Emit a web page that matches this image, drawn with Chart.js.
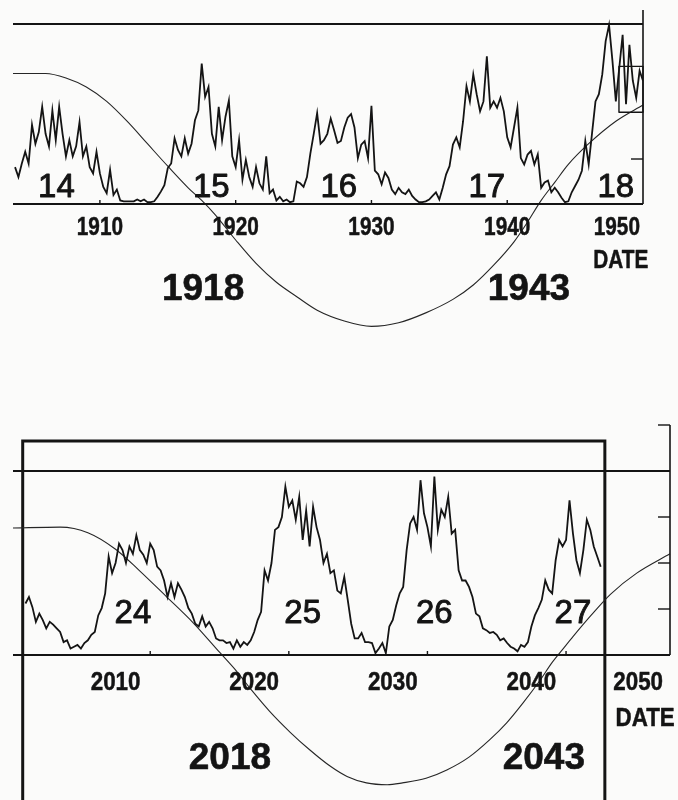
<!DOCTYPE html>
<html>
<head>
<meta charset="utf-8">
<script src="https://cdn.jsdelivr.net/npm/chart.js@4.4.1/dist/chart.umd.min.js"></script>
<style>
  html, body { margin: 0; padding: 0; background: #fbfbfa; }
  #sheet { position: relative; width: 678px; height: 800px; overflow: hidden; }
  #sheet canvas { position: absolute; left: 0; }
  #upper { top: 0; }
  #lower { top: 400px; }
</style>
</head>
<body>
<div id="sheet">
  <canvas id="upper" width="678" height="345"></canvas>
  <canvas id="lower" width="678" height="400"></canvas>
</div>
<script>
// ---- sampling of the activity series (quarter-year steps) ----
const stepYears = 0.25;

// ---- 1903-1950 ----
const upperStartYear = 1903.75;
const upperActivity = [
  41, 30, 45, 58, 45, 88, 67, 80, 108, 78,
  64, 104, 71, 108, 78, 53, 71, 53, 64, 91,
  53, 64, 41, 34, 58, 34, 19, 12, 38, 10,
  16, 4, 3, 3, 3, 3, 5, 3, 5, 2,
  2, 3, 8, 14, 21, 40, 45, 73, 60, 53,
  73, 56, 67, 93, 104, 156, 119, 130, 78, 64,
  108, 71, 97, 115, 53, 41, 71, 27, 49, 30,
  19, 41, 23, 16, 53, 12, 16, 4, 8, 3,
  5, 2, 3, 25, 23, 19, 30, 56, 78, 101,
  67, 71, 78, 95, 82, 68, 70, 85, 96, 100,
  85, 51, 66, 70, 51, 109, 37, 33, 22, 35,
  29, 16, 11, 18, 13, 11, 16, 9, 5, 2,
  2, 3, 5, 9, 13, 5, 18, 33, 42, 66,
  74, 63, 92, 131, 114, 144, 122, 103, 114, 164,
  107, 114, 107, 118, 103, 74, 63, 85, 107, 51,
  44, 55, 59, 44, 55, 18, 24, 26, 13, 18,
  13, 7, 2, 3, 13, 20, 27, 37, 70, 44,
  79, 114, 122, 144, 181, 199, 159, 114, 151, 188,
  111, 177, 137, 118, 148, 137
];
const upperCurveYears = [1903.6, 1906, 1907.5, 1909, 1910.5, 1912, 1913.5, 1915, 1916.5, 1917.5,
  1918.5, 1920, 1921.5, 1923, 1924.5, 1926, 1928, 1930, 1932, 1934, 1936, 1937.5, 1939,
  1940.5, 1941.5, 1942.5, 1943.5, 1944.5, 1946, 1948, 1950];
const upperCurveValues = [145, 145, 140, 130, 114, 92, 67, 42, 18, 4,
  -12, -40, -66, -87, -103, -118, -130, -136, -132, -121, -106, -90, -68,
  -42, -20, 4, 24, 44, 67, 92, 110];
const upperTickYears = [1910, 1920, 1930, 1940];
const upperLabelYears = [1910, 1920, 1930, 1940, 1950];
const upperCycleNames = ['14', '15', '16', '17', '18'];
const upperCycleYears = [1906.8, 1918.2, 1927.6, 1938.5, 1948.0];
const upperTurnNames = ['1918', '1943'];
const upperTurnYears = [1917.6, 1941.6];

// ---- 2003-2050 ----
const lowerStartYear = 2003.5;
const lowerActivity = [
  56, 63, 52, 36, 45, 38, 29, 36, 33, 29,
  25, 14, 16, 7, 9, 11, 7, 13, 16, 22,
  25, 43, 51, 67, 107, 89, 100, 121, 114, 100,
  118, 110, 130, 114, 109, 100, 121, 114, 96, 92,
  81, 63, 78, 63, 78, 71, 63, 51, 45, 34,
  31, 42, 31, 36, 29, 18, 16, 16, 13, 14,
  7, 16, 9, 14, 11, 16, 25, 38, 47, 92,
  81, 100, 136, 139, 150, 183, 161, 168, 147, 172,
  125, 157, 118, 161, 139, 125, 100, 110, 89, 92,
  70, 67, 85, 60, 34, 18, 18, 24, 14, 14,
  13, 2, 7, 13, 2, 31, 38, 54, 67, 74,
  114, 143, 150, 136, 190, 154, 139, 118, 194, 136,
  158, 150, 172, 132, 136, 92, 81, 81, 74, 63,
  45, 42, 29, 27, 24, 25, 22, 16, 18, 13,
  9, 7, 4, 11, 9, 14, 31, 43, 51, 60,
  81, 71, 67, 103, 125, 118, 125, 168, 132, 103,
  89, 114, 147, 136, 118, 107, 96
];
const lowerCurveYears = [2002.6, 2006, 2008, 2010, 2011.7, 2013.7, 2015.6, 2017.5, 2018.75, 2019.8,
  2021.1, 2022.6, 2024, 2025.5, 2026.7, 2028.1, 2029.6, 2030.7, 2032.4, 2033.9, 2035.5,
  2037, 2038.2, 2039.4, 2040.6, 2041.5, 2042.3, 2043, 2044.3, 2045.7, 2047.6, 2050];
const lowerCurveValues = [138, 139, 133, 115, 92, 63, 35, 3, -18, -38,
  -61, -84, -103, -121, -132, -139, -141, -139, -134, -125, -111,
  -92, -74, -52, -28, -8, 7, 20, 43, 66, 89, 110];
const lowerTickYears = [2012.5, 2022.5, 2032.5, 2042.5];
const lowerLabelYears = [2010, 2020, 2030, 2040, 2050];
const lowerCycleNames = ['24', '25', '26', '27'];
const lowerCycleYears = [2011.25, 2023.5, 2033.0, 2043.0];
const lowerTurnNames = ['2018', '2043'];
const lowerTurnYears = [2018.25, 2040.9];
const lowerNotchYear = [2026.3];
const lowerNotchValue = [-138];

// reference level and right-hand scale ticks
const referenceLevel = 200;
const upperRightTicks = [50];
const lowerRightTicks = [50, 100, 150, 250];

const INK = '#141414';
const BODY_FONT = '"Liberation Sans", Arial, sans-serif';

function toPoints(start, values) {
  return values.map((v, i) => ({ x: start + i * stepYears, y: v }));
}
function pairPoints(xs, ys) {
  return xs.map((x, i) => ({ x, y: ys[i] }));
}
function stroke(ctx, x1, y1, x2, y2, w) {
  ctx.lineWidth = w;
  ctx.beginPath();
  ctx.moveTo(x1, y1);
  ctx.lineTo(x2, y2);
  ctx.stroke();
}
function narrowText(ctx, text, cx, cy, sx) {
  ctx.save();
  ctx.translate(cx, cy);
  ctx.scale(sx, 1);
  ctx.fillText(text, 0, 0);
  ctx.lineWidth = 0.5;
  ctx.strokeText(text, 0, 0);
  ctx.restore();
}
function heavyText(ctx, text, cx, cy, w) {
  ctx.fillText(text, cx, cy);
  ctx.lineWidth = w;
  ctx.strokeText(text, cx, cy);
}

// frame, axis, ticks and printed labels, all placed from the chart scales
const panelDecor = {
  id: 'panelDecor',
  afterDatasetsDraw(chart, args, o) {
    const { ctx, chartArea: a } = chart;
    const x = chart.scales.x, y = chart.scales.y;
    ctx.save();
    ctx.strokeStyle = INK;
    ctx.fillStyle = INK;
    ctx.lineJoin = 'round';

    const yRef = y.getPixelForValue(referenceLevel);
    stroke(ctx, a.left, yRef, a.right, yRef, 1.9);
    stroke(ctx, a.right, a.top, a.right, a.bottom, 1.6);
    o.rightTicks.forEach(v => {
      const py = y.getPixelForValue(v);
      stroke(ctx, a.right - 12, py, a.right, py, 1.4);
    });
    if (o.sideBox) {
      const bx = x.getPixelForValue(o.sideBox.from);
      const t = y.getPixelForValue(o.sideBox.high), b = y.getPixelForValue(o.sideBox.low);
      ctx.lineWidth = 1.4;
      ctx.strokeRect(bx, t, a.right - bx, b - t);
    }

    const y0 = y.getPixelForValue(0);
    stroke(ctx, a.left, y0, a.right, y0, 2.2);
    o.tickYears.forEach(t => {
      const px = x.getPixelForValue(t);
      stroke(ctx, px, y0, px, y0 - 4, 1.4);
    });

    ctx.font = 'bold 26px ' + BODY_FONT;
    ctx.textAlign = 'center';
    ctx.textBaseline = 'middle';
    let lastX = 0;
    o.labelYears.forEach(t => {
      const label = String(t);
      const w = ctx.measureText(label).width * o.condense;
      let px = x.getPixelForValue(t);
      if (px + w / 2 > a.right - o.edgeGap) px = a.right - o.edgeGap - w / 2;
      narrowText(ctx, label, px, y0 + o.labelDy, o.condense);
      lastX = px;
    });
    narrowText(ctx, 'DATE', lastX + o.titleDx, y0 + o.labelDy + o.titleDy, o.condense);

    ctx.textBaseline = 'alphabetic';
    ctx.font = '33px ' + BODY_FONT;
    o.cycleNames.forEach((n, i) => {
      heavyText(ctx, n, x.getPixelForValue(o.cycleYears[i]), y.getPixelForValue(o.cycleBase), 0.9);
    });
    ctx.font = 'bold 37px ' + BODY_FONT;
    o.turnNames.forEach((n, i) => {
      heavyText(ctx, n, x.getPixelForValue(o.turnYears[i]), y.getPixelForValue(o.turnBase), 0.6);
    });
    ctx.restore();
  }
};

function buildPanel(canvasId, cfg) {
  const datasets = [
    {
      label: 'activity',
      data: toPoints(cfg.start, cfg.activity),
      borderColor: INK,
      borderWidth: 1.8,
      borderJoinStyle: 'miter',
      pointRadius: 0,
      tension: 0
    },
    {
      label: 'long cycle',
      data: pairPoints(cfg.curveYears, cfg.curveValues),
      borderColor: '#262626',
      borderWidth: 1.1,
      pointRadius: 0,
      cubicInterpolationMode: 'monotone',
      clip: false
    }
  ].concat(cfg.extra || []);

  return new Chart(document.getElementById(canvasId), {
    type: 'line',
    data: { datasets },
    options: {
      responsive: false,
      animation: false,
      events: [],
      layout: { padding: cfg.padding },
      scales: {
        x: { type: 'linear', min: cfg.xMin, max: cfg.xMax, display: false },
        y: { type: 'linear', min: 0, max: cfg.yMax, display: false }
      },
      plugins: {
        legend: { display: false },
        tooltip: { enabled: false },
        panelDecor: cfg.decor
      }
    },
    plugins: [panelDecor]
  });
}

buildPanel('upper', {
  start: upperStartYear,
  activity: upperActivity,
  curveYears: upperCurveYears,
  curveValues: upperCurveValues,
  xMin: 1903.6, xMax: 1950, yMax: 215.6,
  padding: { left: 13, right: 35, top: 10, bottom: 141 },
  decor: {
    rightTicks: upperRightTicks,
    sideBox: { from: 1948.23, low: 102, high: 153 },
    tickYears: upperTickYears,
    labelYears: upperLabelYears,
    condense: 0.8, labelDy: 24, edgeGap: 3, titleDx: 4, titleDy: 33,
    cycleNames: upperCycleNames, cycleYears: upperCycleYears, cycleBase: 8,
    turnNames: upperTurnNames, turnYears: upperTurnYears, turnBase: -107
  }
});

buildPanel('lower', {
  start: lowerStartYear,
  activity: lowerActivity,
  curveYears: lowerCurveYears,
  curveValues: lowerCurveValues,
  xMin: 2002.6, xMax: 2050, yMax: 250,
  padding: { left: 13, right: 8, top: 25, bottom: 145 },
  extra: [
    {
      label: 'frame',
      data: [{ x: 2003.3, y: -190 }, { x: 2003.3, y: 232.6 }, { x: 2045.3, y: 232.6 }, { x: 2045.3, y: -190 }],
      borderColor: INK,
      borderWidth: 3,
      pointRadius: 0,
      tension: 0,
      clip: false
    },
    {
      label: 'notch',
      data: pairPoints(lowerNotchYear, lowerNotchValue),
      showLine: false,
      pointStyle: 'triangle',
      rotation: 200,
      pointRadius: 4,
      backgroundColor: INK,
      borderColor: INK,
      clip: false
    }
  ],
  decor: {
    rightTicks: lowerRightTicks,
    sideBox: null,
    tickYears: lowerTickYears,
    labelYears: lowerLabelYears,
    condense: 0.86, labelDy: 28, edgeGap: 7, titleDx: 7, titleDy: 36,
    cycleNames: lowerCycleNames, cycleYears: lowerCycleYears, cycleBase: 35,
    turnNames: lowerTurnNames, turnYears: lowerTurnYears, turnBase: -124
  }
});
</script>
</body>
</html>
